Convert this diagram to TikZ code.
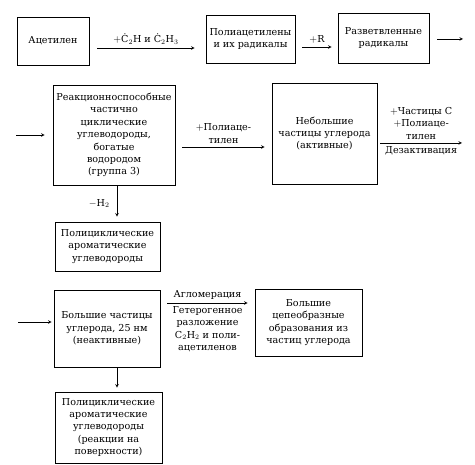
\documentclass[tikz,border=0pt]{standalone}
\usepackage{fontspec}
\setmainfont{DejaVu Serif}
\usepackage{amsmath}
\begin{document}
\begin{tikzpicture}[x=1pt,y=-1pt,>=stealth,
  blk/.style={draw,line width=0.7pt,align=center,inner sep=1pt},
  rxn/.style={line width=0.6pt,->}]
\fontsize{9.6}{12.4}\selectfont
\useasboundingbox (0,0) rectangle (475,465);
%
\node (acet) at (53,41) [blk,minimum width=72,minimum height=48] {Ацетилен};
\node (polyac) at (250.5,39) [blk,minimum width=89,minimum height=48] {Полиацетилены\\и их радикалы};
\node (branch) at (383.5,38) [blk,minimum width=91,minimum height=50] {Разветвленные\\радикалы};
\node (react) at (114,135) [blk,minimum width=122,minimum height=100] {Реакционноспособные\\частично\\циклические\\углеводороды,\\богатые\\водородом\\(группа 3)};
\node (small) at (324.5,133.5) [blk,minimum width=105,minimum height=101] {Небольшие\\частицы углерода\\(активные)};
\node (pah) at (107.5,246.5) [blk,minimum width=105,minimum height=49] {Полициклические\\ароматические\\углеводороды};
\node (large) at (107,328.5) [blk,minimum width=106,minimum height=77] {Большие частицы\\углерода, 25 нм\\(неактивные)};
\node (chain) at (308.5,322.5) [blk,minimum width=107,minimum height=67] {Большие\\цепеобразные\\образования из\\частиц углерода};
\node (pahsurf) at (108.5,427.5) [blk,minimum width=107,minimum height=71] {Полициклические\\ароматические\\углеводороды\\(реакции на\\поверхности)};
%
\coordinate (out1) at (463,39);
\coordinate (in2) at (16,135);
\coordinate (out2) at (462,143);
\coordinate (in3) at (18,322);
%
\draw [rxn] ([shift={(8,7)}]acet.east) -- ([shift={(-11,9)}]polyac.west) node [midway,above] {$+$Ċ$_2$H и Ċ$_2$H$_3$};
\draw [rxn] ([shift={(7,8)}]polyac.east) -- ([shift={(-6,9)}]branch.west) node [midway,above] {$+$R};
\draw [rxn] ([shift={(8,1)}]branch.east) -- (out1);
%
\draw [rxn,shorten >=8pt] (in2) -- (in2 -| react.west);
\draw [rxn] ([shift={(7,12)}]react.east) -- ([shift={(-7,13.5)}]small.west) node [midway,above,align=center] {$+$Полиаце-\\тилен};
\draw [rxn] ([shift={(3,9.5)}]small.east) -- (out2) node [midway,above,align=center] {$+$Частицы C\\$+$Полиаце-\\тилен} node [midway,below] {Дезактивация};
\draw [rxn,shorten >=5pt] ([shift={(3,0)}]react.south) -- ([shift={(3,0)}]react.south |- pah.north) node [midway,left=4pt] {$-$H$_2$};
%
\draw [rxn,shorten >=2pt] (in3) -- (in3 -| large.west);
\draw [rxn] ([shift={(7,-25.5)}]large.east) -- ([shift={(-7,-19.5)}]chain.west) node [midway,above] {Агломерация} node [midway,below,align=center] {Гетерогенное\\разложение\\C$_2$H$_2$ и поли-\\ацетиленов};
\draw [rxn,shorten >=4pt] ([shift={(10,0)}]large.south) -- ([shift={(10,0)}]large.south |- pahsurf.north);
\end{tikzpicture}
\end{document}
